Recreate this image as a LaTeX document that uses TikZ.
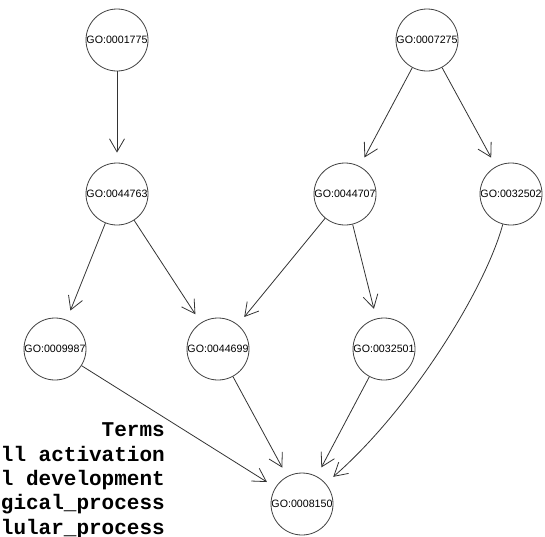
\documentclass[tikz,border=0pt]{standalone}
\usepackage{fontspec}
\setmainfont{Liberation Sans}
\newfontfamily\termfont{Liberation Mono}
\usetikzlibrary{arrows.meta}

\begin{document}
\begin{tikzpicture}[x=0.75pt,y=0.75pt,yscale=-1,xscale=1,
  goterm/.style={draw=black!75, line width=0.6pt, circle, minimum size=46.5pt, inner sep=0pt, font=\fontsize{8}{8}\selectfont},
  golink/.style={draw=black!80, line width=0.6pt, shorten >=7.5pt, -{Straight Barb[length=9.75pt, width=11.25pt, line width=0.6pt]}},
  termline/.style={anchor=base east, inner sep=0pt, font=\termfont\bfseries\fontsize{15.75}{15.56}\selectfont}]
\useasboundingbox (0,0) rectangle (545,536);

% Term Nodes
\node [goterm] (n0001775) at (117,40) {GO:0001775};
\node [goterm] (n0007275) at (427,40) {GO:0007275};
\node [goterm] (n0044763) at (117,194) {GO:0044763};
\node [goterm] (n0044707) at (345,194) {GO:0044707};
\node [goterm] (n0032502) at (511,194) {GO:0032502};
\node [goterm] (n0009987) at (55,349) {GO:0009987};
\node [goterm] (n0044699) at (218,349) {GO:0044699};
\node [goterm] (n0032501) at (384,349) {GO:0032501};
\node [goterm] (n0008150) at (302,504) {GO:0008150};

%Straight Lines
\draw [golink] (n0001775) -- (n0044763);
\draw [golink] (n0007275) -- (n0044707);
\draw [golink] (n0007275) -- (n0032502);
\draw [golink] (n0044763) -- (n0009987);
\draw [golink] (n0044763) -- (n0044699);
\draw [golink] (n0044707) -- (n0044699);
\draw [golink] (n0044707) -- (n0032501);
\draw [golink] (n0009987) -- (n0008150);
\draw [golink] (n0044699) -- (n0008150);
\draw [golink] (n0032501) -- (n0008150);
%Curve Lines
\draw [golink] (n0032502) .. controls (485,290) and (410,410) .. (n0008150);

% Text Node
\node [termline] (termshead) at (165,436.7) {Terms};
\node [termline] (termsa) at (165,461.1) {ll activation};
\node [termline] (termsb) at (165,485.5) {l development};
\node [termline] (termsc) at (165,509.9) {gical\_process};
\node [termline] (termsd) at (165,534.3) {lular\_process};

\end{tikzpicture}
\end{document}
